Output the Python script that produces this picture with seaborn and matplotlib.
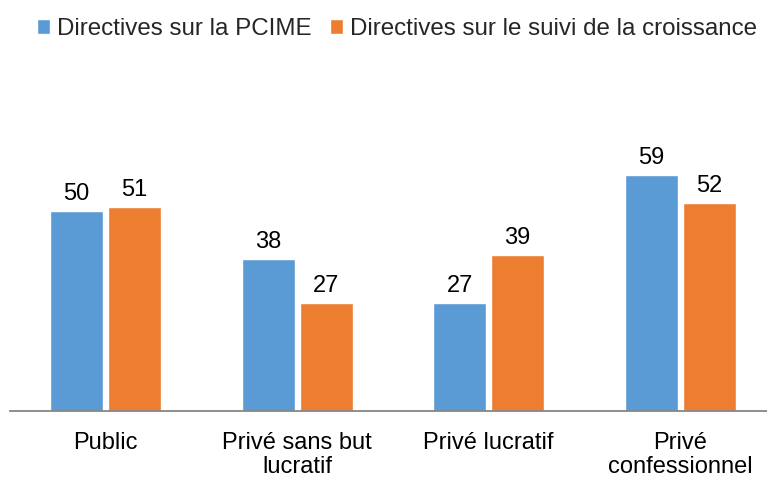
import pandas as pd
import matplotlib.pyplot as plt
import seaborn as sns

# Data
categories = ['Public', 'Privé sans but\nlucratif', 'Privé lucratif', 'Privé\nconfessionnel']
series_names = ['Directives sur la PCIME', 'Directives sur le suivi de la croissance']
pcime = [50, 38, 27, 59]
croissance = [51, 27, 39, 52]
colors = ['#5B9BD5', '#ED7D31']

df = pd.DataFrame({
    'categorie': categories * 2,
    'serie': [series_names[0]] * len(categories) + [series_names[1]] * len(categories),
    'valeur': pcime + croissance,
})

sns.set_theme(style='white')
plt.rcParams['font.family'] = ['Liberation Sans', 'DejaVu Sans']

fig = plt.figure(figsize=(7.67, 4.78), dpi=100)
ax = fig.add_axes([10 / 767, 67 / 478, 757 / 767, 320 / 478])

sns.barplot(data=df, x='categorie', y='valeur', hue='serie', order=categories,
            hue_order=series_names, palette=colors, width=0.606, gap=0.086,
            saturation=1, ax=ax)

for cont in ax.containers:
    ax.bar_label(cont, fmt='%d', padding=4, fontsize=17, color='#000000')

ax.set_xlim(-0.5, 3.454)
ax.set_ylim(0, 80)
ax.set_xlabel('')
ax.set_ylabel('')
ax.set_yticks([])
ax.tick_params(axis='x', length=0, pad=15, labelsize=17, colors='#000000')
for lbl in ax.get_xticklabels():
    lbl.set_linespacing(1.1)
for s in ['top', 'right', 'left']:
    ax.spines[s].set_visible(False)
ax.spines['bottom'].set_color('#868686')
ax.spines['bottom'].set_linewidth(1.3)

handles, labels = ax.get_legend_handles_labels()
ax.get_legend().remove()
fig.legend(handles, labels, loc='center', bbox_to_anchor=(397 / 767, 1 - 29 / 478),
           ncol=2, frameon=False, fontsize=17.4, handlelength=0.55, handleheight=0.55,
           handletextpad=0.3, columnspacing=0.75, borderaxespad=0)

fig.savefig('out.png', dpi=100)
